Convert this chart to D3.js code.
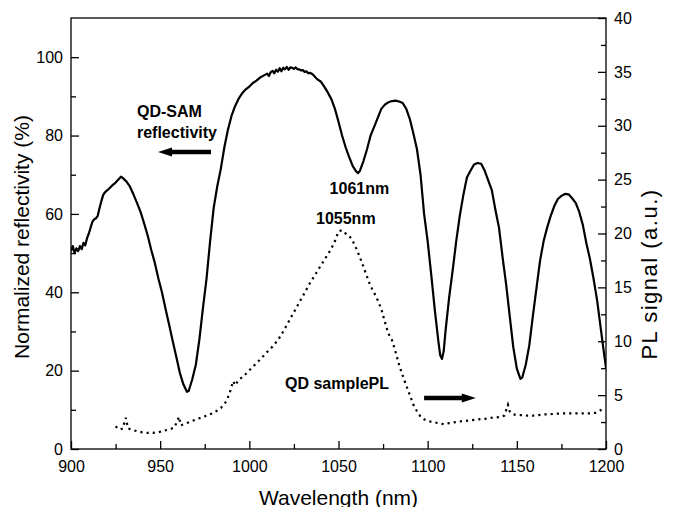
<!DOCTYPE html>
<html>
<head>
<meta charset="utf-8">
<script src="https://cdn.jsdelivr.net/npm/d3@7"></script>
<style>
  html, body { margin: 0; padding: 0; background: #fff; }
  svg { display: block; }
  text { font-family: "Liberation Sans", Arial, Helvetica, sans-serif; fill: #000; }
</style>
</head>
<body>
<svg id="chart" width="673" height="507"></svg>
<script>
// ---------- data ----------
const reflWavelength = [
  900,901,902,903,904,905,906,907,908,909,910,911,912,913,914,915,916,917,918,919,921,923,925,927,928,929,
  931,933,935,937,939,941,943,945,947,949,951,953,955,957,959,961,963,965,966,968,970,972,974,976,978,980,
  982,984,986,988,990,992,994,996,998,1000,1002,1004,1006,1008,1010,1011,1012,1013,1014,1015,1016,1017,1018,
  1019,1020,1021,1022,1023,1024,1025,1026,1027,1028,1029,1030,1031,1032,1033,1034,1035,1036,1038,1040,1042,
  1044,1046,1048,1050,1052,1054,1056,1058,1060,1061,1062,1064,1066,1068,1070,1072,1074,1076,1078,1080,1082,
  1084,1086,1088,1090,1092,1094,1096,1098,1100,1102,1104,1106,1107,1108,1109,1110,1112,1114,1116,1118,1120,
  1122,1124,1126,1128,1130,1132,1134,1136,1138,1140,1142,1144,1146,1148,1150,1152,1153,1155,1157,1159,1161,
  1163,1165,1167,1169,1171,1173,1175,1177,1179,1181,1183,1185,1187,1189,1191,1193,1195,1197,1199,1200
];
const reflValue = [
  50.5,51.8,50.0,51.2,50.5,51.8,51.0,52.6,52.0,53.8,55.0,56.5,58.0,58.6,58.9,59.5,61.5,63.2,64.8,65.5,66.3,67.2,68.0,69.0,69.5,69.2,
  68.3,67.0,65.0,62.8,60.5,57.6,54.5,50.8,47.5,43.5,40.0,35.8,31.8,27.6,23.6,19.5,16.5,14.6,14.8,17.8,21.5,28.0,36.0,43.5,53.0,61.5,
  67.0,71.5,77.0,81.5,85.0,87.5,89.4,90.8,91.8,92.5,93.4,94.0,94.8,95.3,95.8,95.2,96.2,96.5,95.9,96.8,96.3,97.2,96.4,
  97.3,96.9,97.5,96.8,97.4,97.3,97.0,97.4,96.9,96.9,96.6,96.7,96.2,96.4,95.9,96.0,95.8,95.4,94.4,93.8,92.5,
  91.0,89.3,86.8,83.5,80.0,77.0,74.5,72.2,70.8,70.4,71.0,73.5,76.5,80.0,82.2,84.5,86.8,87.9,88.5,88.8,88.9,
  88.7,88.3,86.8,84.2,80.5,76.5,70.0,60.0,53.0,44.5,35.5,27.5,24.0,23.0,25.0,30.0,38.5,45.5,53.0,59.5,64.8,
  69.3,71.0,72.6,73.0,72.8,71.0,68.5,66.0,61.0,56.5,49.0,42.0,34.0,26.0,20.5,17.9,18.2,21.5,26.5,34.0,41.0,
  48.0,53.0,56.5,59.5,62.0,63.8,64.6,65.1,65.0,64.0,62.8,60.5,57.2,52.5,48.5,43.5,38.0,31.0,24.0,20.7
];
const plWavelength = [
  925,926.5,927.5,929,930.7,932,934,937,940,943,946,949,952,955,958,960.6,961.5,964,968,972,976,980,984,987,989,990,991,992,994,997,
  1000,1003,1006,1010,1013,1016,1019,1022,1025,1028,1031,1034,1037,1040,1043,1046,1048,1050,1052,1054,1056,1058,1060,1062,1064,1066,
  1068,1070,1072,1074,1076,1078,1080,1082,1084,1086,1088,1090,1092,1094,1096,1098,1100,1103,1106,1109,1112,1116,1120,1124,1128,1132,
  1136,1140,1143,1145,1146,1148,1152,1156,1160,1165,1170,1175,1180,1185,1190,1194,1196,1198
];
const plValue = [
  2.1,1.9,1.8,1.9,2.9,1.9,1.8,1.65,1.55,1.5,1.5,1.55,1.7,1.8,2.0,3.0,2.2,2.35,2.6,2.85,3.1,3.35,3.8,4.4,5.2,5.8,6.3,5.9,6.4,6.8,
  7.3,7.8,8.3,9.0,9.5,10.1,10.9,11.8,12.7,13.6,14.5,15.4,16.2,17.0,17.8,18.6,19.3,20.2,20.3,20.0,19.8,19.3,18.6,17.8,16.9,16.0,
  15.1,14.5,13.8,13.0,11.8,10.7,10.1,9.0,7.8,6.8,5.9,5.0,4.1,3.5,3.0,2.75,2.6,2.5,2.4,2.3,2.4,2.5,2.6,2.65,2.75,2.8,
  2.9,2.95,3.1,4.1,3.5,3.2,3.15,3.1,3.1,3.2,3.25,3.3,3.3,3.3,3.3,3.35,3.5,3.7
];
const xMajorTicks = [900, 950, 1000, 1050, 1100, 1150, 1200];
const xMinorTicks = [925, 975, 1025, 1075, 1125, 1175];
const yLeftMajorTicks = [0, 20, 40, 60, 80, 100];
const yLeftMinorTicks = [10, 30, 50, 70, 90];
const yRightMajorTicks = [0, 5, 10, 15, 20, 25, 30, 35, 40];
const yRightMinorTicks = [2.5, 7.5, 12.5, 17.5, 22.5, 27.5, 32.5, 37.5];
const xTitle = "Wavelength (nm)";
const yLeftTitle = "Normalized reflectivity (%)";
const yRightTitle = "PL signal (a.u.)";

// ---------- layout ----------
const svg = d3.select("#chart");
const L = 71, R = 606, T = 18, B = 449;
const x = d3.scaleLinear().domain([900, 1200]).range([L, R]);
const yL = d3.scaleLinear().domain([0, 110]).range([B, T]);
const yR = d3.scaleLinear().domain([0, 40]).range([B, T]);

// frame
svg.append("rect").attr("x", L).attr("y", T).attr("width", R - L).attr("height", B - T)
  .attr("fill", "none").attr("stroke", "#000").attr("stroke-width", 1.3);

function styleAxis(g) {
  g.select(".domain").remove();
  g.selectAll("line").attr("stroke", "#000").attr("stroke-width", 1.3);
  g.selectAll("text").attr("font-size", 16).attr("fill", "#000")
    .style("font-family", '"Liberation Sans", Arial, sans-serif');
}

// bottom axis
svg.append("g").attr("transform", `translate(0,${B})`)
  .call(d3.axisBottom(x).tickValues(xMajorTicks).tickFormat(d3.format("d")).tickSize(-8).tickPadding(12))
  .call(styleAxis);
svg.append("g").attr("transform", `translate(0,${B})`)
  .call(d3.axisBottom(x).tickValues(xMinorTicks).tickFormat("").tickSize(-5))
  .call(styleAxis);

// left axis
svg.append("g").attr("transform", `translate(${L},0)`)
  .call(d3.axisLeft(yL).tickValues(yLeftMajorTicks).tickFormat(d3.format("d")).tickSize(-8).tickPadding(8))
  .call(styleAxis);
svg.append("g").attr("transform", `translate(${L},0)`)
  .call(d3.axisLeft(yL).tickValues(yLeftMinorTicks).tickFormat("").tickSize(-5))
  .call(styleAxis);

// right axis
svg.append("g").attr("transform", `translate(${R},0)`)
  .call(d3.axisRight(yR).tickValues(yRightMajorTicks).tickFormat(d3.format("d")).tickSize(-8).tickPadding(8))
  .call(styleAxis);
svg.append("g").attr("transform", `translate(${R},0)`)
  .call(d3.axisRight(yR).tickValues(yRightMinorTicks).tickFormat("").tickSize(-5))
  .call(styleAxis);

// titles
svg.append("text").attr("x", (L + R) / 2).attr("y", 505).attr("text-anchor", "middle")
  .attr("font-size", 21).text(xTitle);
svg.append("text").attr("transform", `translate(29,237) rotate(-90)`)
  .attr("text-anchor", "middle").attr("font-size", 21).text(yLeftTitle);
svg.append("text").attr("transform", `translate(657,274) rotate(-90)`)
  .attr("text-anchor", "middle").attr("font-size", 22).attr("letter-spacing", 1.5).text(yRightTitle);

// clip
svg.append("clipPath").attr("id", "plotclip").append("rect")
  .attr("x", L).attr("y", T).attr("width", R - L).attr("height", B - T);

// reflectivity (solid)
const reflData = reflWavelength.map((w, i) => [w, reflValue[i]]);
svg.append("path").datum(reflData).attr("clip-path", "url(#plotclip)")
  .attr("fill", "none").attr("stroke", "#000").attr("stroke-width", 2.2).attr("stroke-linejoin", "round")
  .attr("d", d3.line().x(d => x(d[0])).y(d => yL(d[1])));

// PL (dotted)
const plData = plWavelength.map((w, i) => [w, plValue[i]]);
svg.append("path").datum(plData).attr("clip-path", "url(#plotclip)")
  .attr("fill", "none").attr("stroke", "#000").attr("stroke-width", 2.2)
  .attr("stroke-dasharray", "2.2,4")
  .attr("d", d3.line().x(d => x(d[0])).y(d => yR(d[1])));

// annotations (in data units)
const bold = (t, xv, yv, yscale) => svg.append("text").attr("x", x(xv)).attr("y", yscale(yv))
  .attr("font-size", 16).attr("font-weight", "bold").text(t);
bold("QD-SAM", 937, 84.8, yL);
bold("reflectivity", 937, 79.3, yL);
bold("1061nm", 1045, 65.1, yL);
bold("1055nm", 1037.4, 57.4, yL);
bold("QD samplePL", 1020, 15.2, yL);

function arrow(x0, x1, yv, yscale) {
  const X0 = x(x0), X1 = x(x1), Y = yscale(yv);
  const dir = Math.sign(X1 - X0);
  const head = 14;
  svg.append("line").attr("x1", X0).attr("x2", X1 - dir * head + dir * 1).attr("y1", Y).attr("y2", Y)
    .attr("stroke", "#000").attr("stroke-width", 4.5);
  svg.append("path").attr("fill", "#000")
    .attr("d", `M${X1},${Y} L${X1 - dir * head},${Y - 4.5} L${X1 - dir * head},${Y + 4.5} Z`);
}
arrow(978.5, 948.8, 75.8, yL);
arrow(1098, 1127, 4.73, yR);
</script>
</body>
</html>
